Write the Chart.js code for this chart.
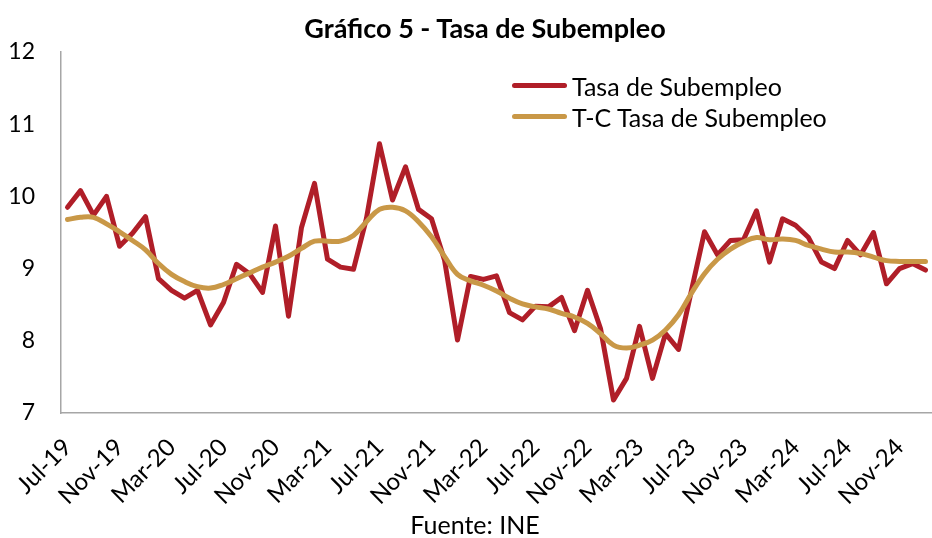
<!DOCTYPE html>
<html lang="es">
<head>
<meta charset="utf-8">
<title>Gráfico 5 - Tasa de Subempleo</title>
<script src="https://cdn.jsdelivr.net/npm/chart.js@4.4.1/dist/chart.umd.min.js"></script>
<style>
  html, body { margin: 0; padding: 0; background: #fff; }
  #wrap { position: relative; width: 932px; height: 538px; font-family: Lato, "Open Sans", sans-serif; color: #000; }
  #chart { position: absolute; left: 0; top: 0; }
  #title { position: absolute; top: 11px; left: 485px; transform: translateX(-50%); white-space: nowrap; font-weight: bold; font-size: 27px; }
  #legend { position: absolute; left: 512px; top: 70px; font-size: 25px; }
  .item { display: flex; align-items: center; height: 31px; }
  .swatch { width: 55px; height: 5px; border-radius: 3px; margin-right: 5px; }
  #source { position: absolute; top: 509px; left: 475px; transform: translateX(-50%); white-space: nowrap; font-size: 25px; }
</style>
</head>
<body>
<div id="wrap">
  <canvas id="chart" width="932" height="538"></canvas>
  <div id="title">Gráfico 5 - Tasa de Subempleo</div>
  <div id="legend"></div>
  <div id="source">Fuente: INE</div>
</div>
<script>
// Months, Jul-19 to Jan-25
const months = [
  'Jul-19', 'Aug-19', 'Sep-19', 'Oct-19', 'Nov-19', 'Dec-19',
  'Jan-20', 'Feb-20', 'Mar-20', 'Apr-20', 'May-20', 'Jun-20', 'Jul-20', 'Aug-20', 'Sep-20', 'Oct-20', 'Nov-20', 'Dec-20',
  'Jan-21', 'Feb-21', 'Mar-21', 'Apr-21', 'May-21', 'Jun-21', 'Jul-21', 'Aug-21', 'Sep-21', 'Oct-21', 'Nov-21', 'Dec-21',
  'Jan-22', 'Feb-22', 'Mar-22', 'Apr-22', 'May-22', 'Jun-22', 'Jul-22', 'Aug-22', 'Sep-22', 'Oct-22', 'Nov-22', 'Dec-22',
  'Jan-23', 'Feb-23', 'Mar-23', 'Apr-23', 'May-23', 'Jun-23', 'Jul-23', 'Aug-23', 'Sep-23', 'Oct-23', 'Nov-23', 'Dec-23',
  'Jan-24', 'Feb-24', 'Mar-24', 'Apr-24', 'May-24', 'Jun-24', 'Jul-24', 'Aug-24', 'Sep-24', 'Oct-24', 'Nov-24', 'Dec-24',
  'Jan-25'
];

// Tasa de Subempleo (%)
const tasa = [
  9.85, 10.08, 9.74, 10.00, 9.31, 9.49,
  9.72, 8.86, 8.70, 8.59, 8.70, 8.22, 8.53, 9.06, 8.93, 8.67, 9.59, 8.34,
  9.57, 10.18, 9.13, 9.02, 8.99, 9.70, 10.73, 9.95, 10.41, 9.82, 9.69, 9.12,
  8.01, 8.89, 8.85, 8.90, 8.39, 8.29, 8.48, 8.47, 8.60, 8.14, 8.70, 8.17,
  7.18, 7.48, 8.20, 7.48, 8.10, 7.88, 8.70, 9.51, 9.19, 9.39, 9.40, 9.80,
  9.09, 9.69, 9.60, 9.43, 9.09, 9.00, 9.39, 9.19, 9.50, 8.79, 9.00, 9.07,
  8.98
];

// Tendencia-ciclo
const tendencia = [
  9.68, 9.71, 9.71, 9.62, 9.51, 9.39,
  9.26, 9.07, 8.92, 8.82, 8.75, 8.73, 8.78, 8.86, 8.94, 9.02, 9.09, 9.17,
  9.28, 9.38, 9.38, 9.38, 9.46, 9.65, 9.82, 9.85, 9.80, 9.65, 9.44, 9.17,
  8.92, 8.83, 8.77, 8.69, 8.59, 8.51, 8.47, 8.44, 8.38, 8.33, 8.24, 8.10,
  7.94, 7.90, 7.94, 8.01, 8.15, 8.36, 8.66, 8.93, 9.13, 9.27, 9.37, 9.43,
  9.40, 9.41, 9.39, 9.32, 9.27, 9.23, 9.23, 9.21, 9.16, 9.11, 9.10, 9.10,
  9.10
];

const yTicks = [7, 8, 9, 10, 11, 12];

const seriesNames = ['Tasa de Subempleo', 'T-C Tasa de Subempleo'];
const seriesColors = ['#b01e28', '#c99847'];

const axisColor = '#a6a6a6';
const font = 'Lato, "Open Sans", sans-serif';

const ctx = document.getElementById('chart').getContext('2d');
const chart = new Chart(ctx, {
    type: 'line',
    data: {
        labels: months,
        datasets: [
            {
                label: seriesNames[0],
                data: tasa,
                borderColor: seriesColors[0],
                borderWidth: 5,
                borderJoinStyle: 'round',
                borderCapStyle: 'round',
                pointRadius: 0,
                tension: 0,
                order: 2
            },
            {
                label: seriesNames[1],
                data: tendencia,
                borderColor: seriesColors[1],
                borderWidth: 5,
                borderCapStyle: 'round',
                pointRadius: 0,
                tension: 0.4,
                order: 1
            }
        ]
    },
    options: {
        responsive: false,
        animation: false,
        layout: { padding: { top: 52, right: 0, left: 0, bottom: 0 } },
        plugins: {
            legend: { display: false },
            title: { display: false },
            tooltip: { enabled: false }
        },
        scales: {
            x: {
                offset: true,
                grid: { display: false, drawTicks: false },
                border: { display: true, color: axisColor, width: 1.5 },
                ticks: {
                    autoSkip: false,
                    maxRotation: 45,
                    minRotation: 45,
                    padding: 20,
                    color: '#000',
                    font: { family: font, size: 24 },
                    callback: function (value, index) {
                        return index % 4 === 0 ? this.getLabelForValue(value) : '';
                    }
                },
                afterFit: scale => {
                    scale.height = 125;
                    scale.paddingLeft = 0;
                    scale.paddingRight = 0;
                }
            },
            y: {
                min: 7,
                max: 12,
                grid: { display: false, drawTicks: false },
                border: { display: true, color: axisColor, width: 1.5 },
                afterBuildTicks: scale => {
                    scale.ticks = yTicks.map(v => ({ value: v }));
                },
                ticks: {
                    padding: 26,
                    color: '#000',
                    font: { family: font, size: 23 }
                },
                afterFit: scale => {
                    scale.width = 61;
                }
            }
        }
    }
});

// legend inside the plot, top right
const legendBox = document.getElementById('legend');
seriesNames.forEach((name, i) => {
    const item = document.createElement('div');
    item.className = 'item';
    const sw = document.createElement('span');
    sw.className = 'swatch';
    sw.style.background = seriesColors[i];
    const txt = document.createElement('span');
    txt.textContent = name;
    item.appendChild(sw);
    item.appendChild(txt);
    legendBox.appendChild(item);
});
</script>
</body>
</html>
